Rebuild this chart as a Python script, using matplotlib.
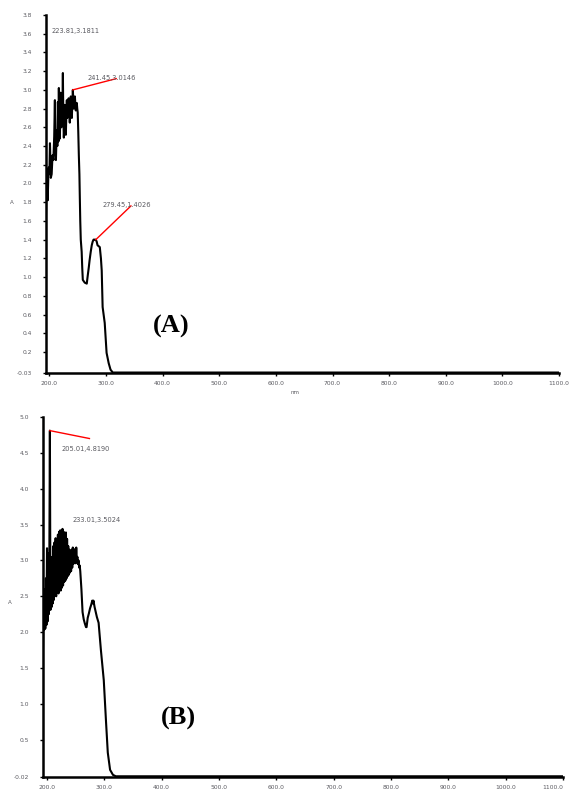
# =========================================================
#          UV-VIS SPECTRA - PANEL (A) AND PANEL (B)
# =========================================================

import matplotlib.pyplot as plt

# =========================================================
# DATA
# =========================================================

wl_a = [
    194, 195, 196, 197, 198.5, 200, 201, 202.5, 204, 205.5, 207, 208.5,
    209.7, 210.5, 211.5, 213, 214, 215, 216, 216.7, 217.5, 218.5, 219.3,
    220, 221, 222, 223, 223.8, 224.6, 225.5, 226.3, 227, 228, 229, 230,
    230.8, 231.7, 232.6, 233.4, 234, 235, 236, 237, 237.8, 238.7, 239.6,
    240.5, 241.4, 242.2, 243, 244, 245, 245.8, 246.6, 247.5, 248.4, 249.2,
    250, 251, 252, 253, 253.7, 254.5, 255.4, 257, 258, 259, 262.5, 266,
    267.8, 269.5, 271, 273, 274.8, 276.5, 278, 280, 281.8, 283.5, 285,
    289, 291, 292.4, 294, 297.7, 301, 304.7, 308, 312, 1100,
]
abs_a = [
    1.68, 2.15, 1.95, 1.82, 2.17, 2.10, 2.43, 2.06, 2.10, 2.30, 2.25, 2.50,
    2.89, 2.35, 2.25, 2.57, 2.40, 2.87, 2.45, 3.02, 2.55, 2.48, 2.75,
    2.97, 2.60, 2.68, 2.80, 3.18, 2.70, 2.49, 2.60, 2.84, 2.65, 2.52, 2.75,
    2.89, 2.70, 2.76, 2.82, 2.91, 2.78, 2.65, 2.80, 2.93, 2.75, 2.70,
    2.85, 3.00, 2.90, 2.80, 2.88, 2.93, 2.85, 2.78, 2.83, 2.86, 2.80,
    2.76, 2.55, 2.30, 2.10, 1.86, 1.60, 1.40, 1.27, 1.10, 0.97, 0.94, 0.93,
    1.02, 1.10, 1.18, 1.27, 1.34, 1.38, 1.40, 1.40, 1.40, 1.38, 1.34,
    1.32, 1.20, 1.07, 0.68, 0.51, 0.19, 0.08, 0.01, -0.02, -0.02,
]

wl_b = [
    193, 194, 195, 196, 197, 198, 199, 200, 201, 202, 203, 204, 205, 206,
    207, 208, 209, 210, 211, 212, 213, 214, 215, 216, 217, 218, 219, 220,
    221, 222, 223, 224, 225, 226, 227, 228, 229, 230, 231, 232, 233, 234,
    235, 236, 237, 238, 239, 240, 241, 242, 243, 244, 245, 246, 247, 248,
    249, 250, 251, 252, 253, 254, 255, 256, 257, 258, 260, 262, 264, 266,
    268, 269, 271, 273, 275, 277, 279, 280, 281, 283, 285, 287, 290, 294,
    299, 303, 306, 310, 315, 320, 1100,
]
abs_b = [
    1.79, 2.50, 2.03, 2.60, 2.05, 2.75, 2.10, 3.17, 2.15, 3.10, 2.25, 2.90,
    4.81, 2.31, 2.90, 2.35, 3.05, 2.40, 3.20, 2.45, 3.25, 2.54, 3.31, 2.50,
    3.30, 2.55, 3.36, 2.54, 3.40, 2.60, 3.42, 2.58, 3.38, 2.62, 3.44, 2.65,
    3.40, 2.70, 3.35, 2.72, 3.39, 2.75, 3.30, 2.78, 3.20, 2.80, 3.15, 2.83,
    3.11, 2.85, 3.15, 2.90, 3.18, 2.95, 3.12, 3.00, 3.16, 2.96, 3.18, 3.00,
    3.05, 2.95, 3.00, 2.90, 2.93, 2.85, 2.60, 2.28, 2.18, 2.12, 2.07, 2.07,
    2.20, 2.26, 2.33, 2.38, 2.44, 2.40, 2.44, 2.35, 2.28, 2.21, 2.13, 1.75,
    1.33, 0.74, 0.32, 0.08, 0.01, -0.01, -0.01,
]

x_ticks = [200, 300, 400, 500, 600, 700, 800, 900, 1000, 1100]
x_labels = ["200.0", "300.0", "400.0", "500.0", "600.0", "700.0",
            "800.0", "900.0", "1000.0", "1100.0"]

y_ticks_a = [-0.025] + [round(0.2 * k, 1) for k in range(1, 20)]
y_labels_a = ["-0.03"] + ["%.1f" % v for v in y_ticks_a[1:]]

y_ticks_b = [-0.02] + [round(0.5 * k, 1) for k in range(1, 11)]
y_labels_b = ["-0.02"] + ["%.1f" % v for v in y_ticks_b[1:]]

# peak labels: (text, text x, text y, line from, line to)
notes_a = [
    ("223.81,3.1811", 204, 3.63, None, None),
    ("241.45,3.0146", 268, 3.13, (241.4, 3.00), (318, 3.12)),
    ("279.45,1.4026", 293, 1.77, (282, 1.40), (344, 1.76)),
]
notes_b = [
    ("205.01,4.8190", 225, 4.56, (205, 4.81), (274, 4.70)),
    ("233.01,3.5024", 244, 3.56, None, None),
]

TEXT_COLOR = "#5a5a60"

# =========================================================
# FIGURE
# =========================================================

fig = plt.figure(figsize=(5.71, 7.94), dpi=100)
plt.rcParams["font.family"] = ["DejaVu Sans"]

W, H = 571.0, 794.0

ax_a = fig.add_axes([46 / W, 1 - 373 / H, 513 / W, 358 / H])
ax_b = fig.add_axes([43 / W, 1 - 777 / H, 520 / W, 360 / H])


def style_axes(ax, xmin, ymin, ymax, yt, yl):

    ax.set_xlim(xmin, 1100)
    ax.set_ylim(ymin, ymax)

    ax.set_xticks(x_ticks)
    ax.set_xticklabels(x_labels, fontsize=4.3, color=TEXT_COLOR)

    ax.set_yticks(yt)
    ax.set_yticklabels(yl, fontsize=4.3, color=TEXT_COLOR)

    for side in ["top", "right"]:
        ax.spines[side].set_visible(False)

    for side in ["left", "bottom"]:
        ax.spines[side].set_linewidth(1.8)

    ax.tick_params(axis="x", direction="out", length=2, width=1, pad=4)
    ax.tick_params(axis="y", direction="out", length=2, width=1, pad=8)


# =========================================================
# PANEL (A)
# =========================================================

ax_a.plot(wl_a, abs_a, color="black", linewidth=1.5)

style_axes(ax_a, 194, -0.025, 3.8, y_ticks_a, y_labels_a)

for text, tx, ty, p0, p1 in notes_a:

    if p0 is not None:
        ax_a.plot([p0[0], p1[0]], [p0[1], p1[1]], color="red", linewidth=1)

    ax_a.text(tx, ty, text, fontsize=4.8, color=TEXT_COLOR, va="center")

ax_a.text(415, 0.47, "(A)", fontsize=19, fontweight="bold",
          family=["Liberation Serif"], ha="center", va="center")

fig.text(12 / W, 1 - 203 / H, "A", fontsize=4, color=TEXT_COLOR,
         ha="center", va="center")
fig.text(295 / W, 1 - 392 / H, "nm", fontsize=4, color=TEXT_COLOR,
         ha="center", va="center")

# =========================================================
# PANEL (B)
# =========================================================

ax_b.plot(wl_b, abs_b, color="black", linewidth=1.5)

style_axes(ax_b, 193, -0.02, 5.0, y_ticks_b, y_labels_b)

for label in ax_b.get_xticklabels()[-1:]:
    label.set_horizontalalignment("right")

for text, tx, ty, p0, p1 in notes_b:

    if p0 is not None:
        ax_b.plot([p0[0], p1[0]], [p0[1], p1[1]], color="red", linewidth=1)

    ax_b.text(tx, ty, text, fontsize=4.8, color=TEXT_COLOR, va="center")

ax_b.text(430, 0.79, "(B)", fontsize=19, fontweight="bold",
          family=["Liberation Serif"], ha="center", va="center")

fig.text(10 / W, 1 - 602 / H, "A", fontsize=4, color=TEXT_COLOR,
         ha="center", va="center")

fig.savefig("out.png", dpi=100)
